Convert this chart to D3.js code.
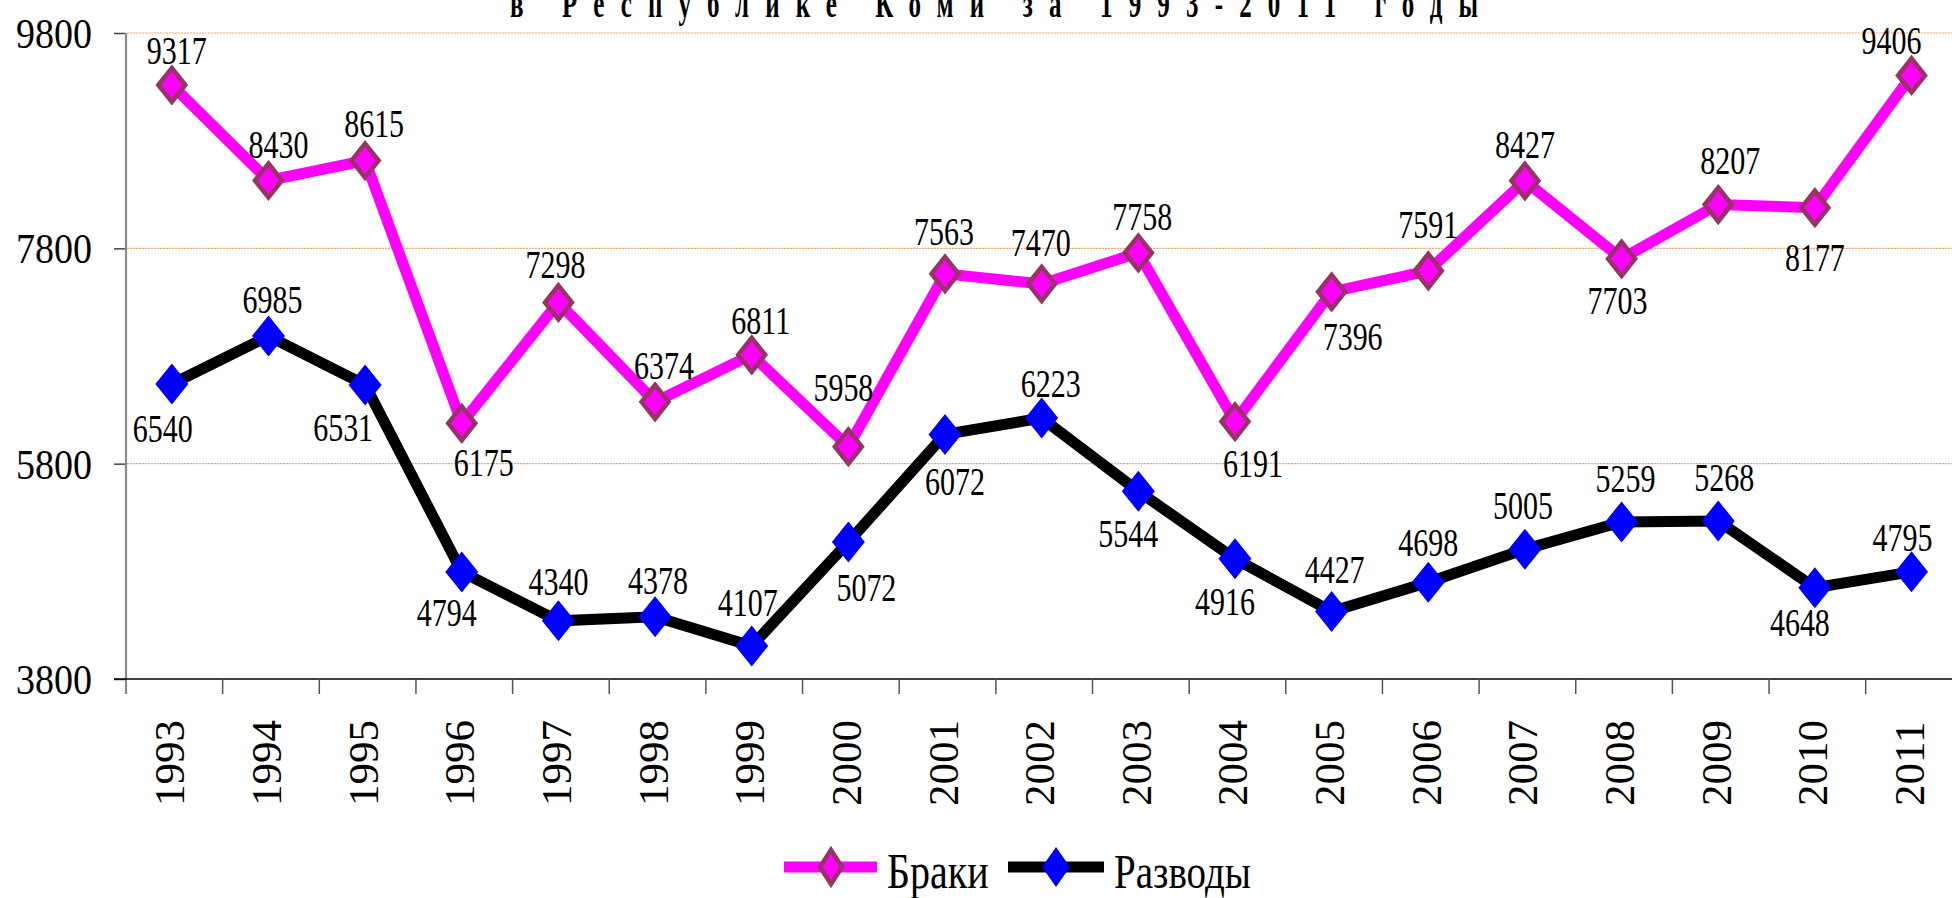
<!DOCTYPE html>
<html><head><meta charset="utf-8">
<script src="https://cdn.jsdelivr.net/npm/d3@7"></script>
<style>
html,body{margin:0;padding:0;background:#fff;overflow:hidden}
svg{display:block;font-family:"Liberation Serif","Times New Roman",serif}
</style></head>
<body>
<svg id="chart" width="1952" height="898"></svg>
<script>
// ---- data ----
const years = ["1993","1994","1995","1996","1997","1998","1999","2000","2001","2002","2003","2004","2005","2006","2007","2008","2009","2010","2011"];
const marriages = [9317,8430,8615,6175,7298,6374,6811,5958,7563,7470,7758,6191,7396,7591,8427,7703,8207,8177,9406];
const divorces  = [6540,6985,6531,4794,4340,4378,4107,5072,6072,6223,5544,4916,4427,4698,5005,5259,5268,4648,4795];
const yTicks = [3800,5800,7800,9800];
const seriesNames = ["Браки","Разводы"];
const titleText = "в Республике Коми за 1993-2011 годы";

// ---- label placement (dx, baseline dy from marker) ----
const marriageLabelPos = [[5,-21],[10,-23],[9,-24],[22,53],[-3,-24],[9,-23],[9,-21],[-5,-46],[-1,-29],[-1,-28],[4,-23],[18,55],[21,58],[0,-33],[0,-23],[-4,55],[12,-31],[0,63],[-20,-21]];
const divorceLabelPos  = [[-9,58],[4,-23],[-22,56],[-15,54],[0,-26],[3,-23],[-4,-30],[18,59],[10,61],[9,-21],[-10,56],[-10,56],[3,-28],[0,-26],[-2,-30],[4,-30],[6,-30],[-15,48],[-9,-21]];

const svg = d3.select("#chart");
const plotLeft = 126, band = 96.65, plotTop = 33, plotBottom = 679;
const x = d3.scaleBand().domain(years).range([plotLeft, plotLeft + band*years.length]).paddingInner(0).paddingOuter(0);
const y = d3.scaleLinear().domain([3800, 9800]).range([plotBottom, plotTop]);
const px = d => x(d) + x.bandwidth()/2 - 2.5;

// title
svg.append("text")
  .attr("transform","translate(510,17) scale(1,1.6)")
  .attr("textLength", 968).attr("lengthAdjust","spacing")
  .attr("font-size", 25).attr("font-weight","bold")
  .text(titleText);

// gridlines
svg.append("g").selectAll("line").data(yTicks.filter(t => t !== 3800)).join("line")
  .attr("x1", plotLeft+1).attr("x2", 1952)
  .attr("y1", d => y(d)).attr("y2", d => y(d))
  .attr("stroke","#F7A56A").attr("stroke-width",1.2).attr("stroke-dasharray","2,1");

// y axis
const yAxis = svg.append("g").attr("transform",`translate(${plotLeft},0)`)
  .call(d3.axisLeft(y).tickValues(yTicks).tickSize(12).tickSizeOuter(0).tickFormat(d3.format("d")));
yAxis.select(".domain").remove();
yAxis.selectAll(".tick line").attr("stroke","#444").attr("stroke-width",1.5);
yAxis.selectAll(".tick text")
  .attr("x",null).attr("dy",null).attr("y",null)
  .attr("transform","translate(-34,14.5) scale(1,1.13)")
  .attr("text-anchor","end").attr("font-size",38).attr("fill","#000")
  .attr("font-family","Liberation Serif");
svg.append("line").attr("x1",plotLeft).attr("x2",plotLeft).attr("y1",plotTop).attr("y2",plotBottom+15)
  .attr("stroke","#8a8a8a").attr("stroke-width",2.2);

// x axis
const xAxis = svg.append("g").attr("transform",`translate(0,${plotBottom})`)
  .call(d3.axisBottom(x).tickSize(0).tickSizeOuter(0));
xAxis.select(".domain").remove();
xAxis.selectAll(".tick text")
  .attr("y",null).attr("dy",null)
  .attr("transform","translate(10,127) rotate(-90)")
  .attr("text-anchor","start").attr("font-size",43).attr("fill","#000")
  .attr("font-family","Liberation Serif");
svg.append("line").attr("x1",plotLeft-12).attr("x2",1952).attr("y1",plotBottom).attr("y2",plotBottom)
  .attr("stroke","#000").attr("stroke-width",1.5);
svg.append("g").selectAll("line").data(years).join("line")
  .attr("x1", d => x(d)+x.bandwidth()).attr("x2", d => x(d)+x.bandwidth())
  .attr("y1", plotBottom).attr("y2", plotBottom+15)
  .attr("stroke","#555").attr("stroke-width",1.5);

// diamond path
function diamond(w, h){ return `M0,${-h}L${w},0L0,${h}L${-w},0Z`; }

const line = d3.line().x((d,i) => px(years[i])).y(d => y(d));

// lines
svg.append("path").datum(marriages).attr("d", line)
  .attr("fill","none").attr("stroke","#FF00FF").attr("stroke-width",11).attr("stroke-linejoin","miter");
svg.append("path").datum(divorces).attr("d", line)
  .attr("fill","none").attr("stroke","#000").attr("stroke-width",11).attr("stroke-linejoin","miter");

// markers
svg.append("g").selectAll("path").data(marriages).join("path")
  .attr("transform",(d,i) => `translate(${px(years[i])},${y(d)})`)
  .attr("d", diamond(13.5,17)).attr("fill","#FF00FF").attr("stroke","#993366").attr("stroke-width",4.5);
svg.append("g").selectAll("path").data(divorces).join("path")
  .attr("transform",(d,i) => `translate(${px(years[i])},${y(d)})`)
  .attr("d", diamond(16.5,20.5)).attr("fill","#0000FF");

// data labels
function labels(data, pos){
  svg.append("g").selectAll("text").data(data).join("text")
    .attr("transform",(d,i) => `translate(${px(years[i]) + pos[i][0]},${y(d) + pos[i][1]}) scale(1,1.3)`)
    .attr("text-anchor","middle").attr("font-size",30).attr("fill","#000")
    .text(d => d);
}
labels(marriages, marriageLabelPos);
labels(divorces, divorceLabelPos);

// legend
const lg = svg.append("g");
lg.append("line").attr("x1",784).attr("x2",877).attr("y1",867).attr("y2",867).attr("stroke","#FF00FF").attr("stroke-width",11);
lg.append("path").attr("transform","translate(831,867)").attr("d",diamond(11,17)).attr("fill","#FF00FF").attr("stroke","#993366").attr("stroke-width",4.5);
lg.append("text").attr("transform","translate(887,888) scale(1,1.25)").attr("font-size",40).text(seriesNames[0]);
lg.append("line").attr("x1",1008).attr("x2",1104).attr("y1",867).attr("y2",867).attr("stroke","#000").attr("stroke-width",11);
lg.append("path").attr("transform","translate(1056,867)").attr("d",diamond(14,20)).attr("fill","#0000FF");
lg.append("text").attr("transform","translate(1114,888) scale(1,1.25)").attr("font-size",39).text(seriesNames[1]);
</script>
</body></html>
